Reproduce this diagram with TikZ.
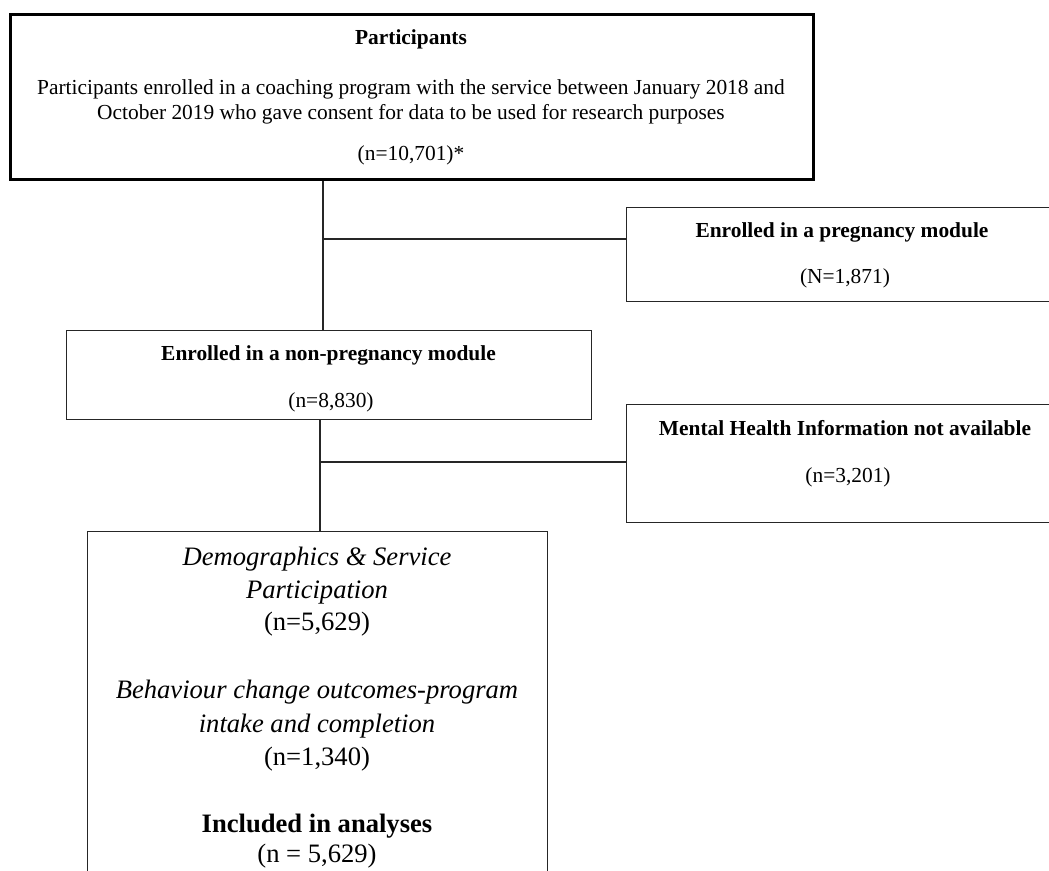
\documentclass[tikz,border=0pt]{standalone}
\usepackage{fontspec}
\setmainfont{Liberation Serif}
\begin{document}
\begin{tikzpicture}[x=1pt,y=-1pt,
  box/.style={draw=black!85, line width=1.4pt, inner sep=0pt, anchor=north west},
  thickbox/.style={box, draw=black, line width=3pt},
  conn/.style={draw=black!85, line width=1.3pt},
  lbl/.style={anchor=base, inner sep=0pt, font=\fontsize{21.4pt}{25pt}\selectfont},
  biglbl/.style={anchor=base, inner sep=0pt, font=\fontsize{26.6pt}{32pt}\selectfont}]
\useasboundingbox (0,0) rectangle (1049,870);
\clip (0,0) rectangle (1049,870);
\fill[white] (0,0) rectangle (1049,870);

% boxes
\node[thickbox, minimum width=803pt, minimum height=165pt] (top) at (9,13) {};
\node[box, minimum width=444pt, minimum height=94pt] (preg) at (626,207) {};
\node[box, minimum width=525pt, minimum height=89pt] (nonpreg) at (66,330) {};
\node[box, minimum width=444pt, minimum height=118pt] (mh) at (626,404) {};
\node[box, minimum width=460pt, minimum height=420pt] (bottom) at (87,531) {};

% top box text
\node[lbl] (t1) at (411,44) {\bfseries Participants};
\node[lbl] (t2) at (411,94) {Participants enrolled in a coaching program with the service between January 2018 and};
\node[lbl] (t3) at (411,119) {October 2019 who gave consent for data to be used for research purposes};
\node[lbl] (t4) at (411,160) {(n=10,701)*};

% pregnancy
\node[lbl] (p1) at (842,237) {\bfseries Enrolled in a pregnancy module};
\node[lbl] (p2) at (845,283) {(N=1,871)};

% non-pregnancy
\node[lbl] (n1) at (328.5,360) {\bfseries Enrolled in a non-pregnancy module};
\node[lbl] (n2) at (331,407) {(n=8,830)};

% mental health
\node[lbl] (m1) at (845,435) {\bfseries Mental Health Information not available};
\node[lbl] (m2) at (848,482) {(n=3,201)};

% bottom box
\node[biglbl] (b1) at (317,565) {\itshape Demographics \& Service};
\node[biglbl] (b2) at (317,598) {\itshape Participation};
\node[biglbl] (b3) at (317,630) {(n=5,629)};
\node[biglbl] (b4) at (317,698) {\itshape Behaviour change outcomes-program};
\node[biglbl] (b5) at (317,732) {\itshape intake and completion};
\node[biglbl] (b6) at (317,765) {(n=1,340)};
\node[biglbl] (b7) at (317,832) {\bfseries Included in analyses};
\node[biglbl] (b8) at (317,862) {(n = 5,629)};

% connectors
\coordinate (j1) at (323,239);
\coordinate (j2) at (320,462);
\draw[conn] (top.south -| j1) -- (nonpreg.north -| j1);
\draw[conn] (j1) -- (preg.west |- j1);
\draw[conn] (nonpreg.south -| j2) -- (bottom.north -| j2);
\draw[conn] (j2) -- (mh.west |- j2);
\end{tikzpicture}
\end{document}
